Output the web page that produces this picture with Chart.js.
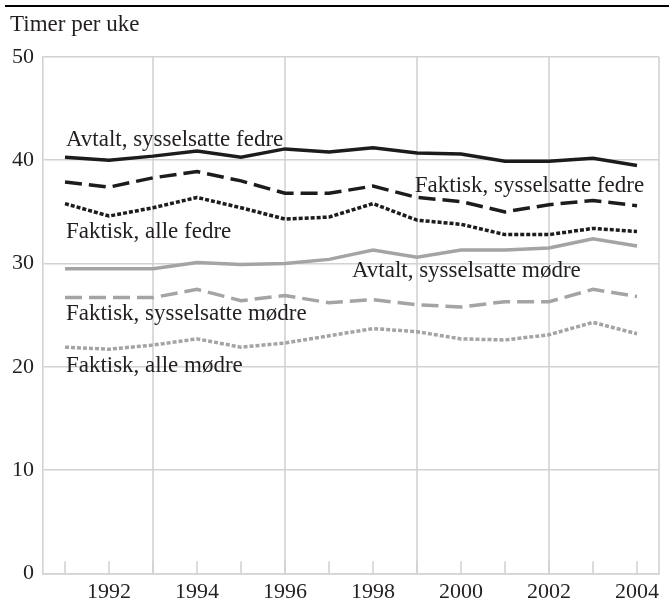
<!DOCTYPE html>
<html>
<head>
<meta charset="utf-8">
<script src="https://cdn.jsdelivr.net/npm/chart.js@4"></script>
<style>
  html, body { margin: 0; padding: 0; background: #fff; }
  #wrap { width: 669px; height: 602px; position: relative; }
</style>
</head>
<body>
<div id="wrap"><canvas id="c" width="669" height="602"></canvas></div>
<script>
// ---- data ----
const years = [1991, 1992, 1993, 1994, 1995, 1996, 1997, 1998, 1999, 2000, 2001, 2002, 2003, 2004];
const avtaltSysFedre   = [40.3, 40.0, 40.4, 40.9, 40.3, 41.1, 40.8, 41.2, 40.7, 40.6, 39.9, 39.9, 40.2, 39.5];
const faktiskSysFedre  = [37.9, 37.4, 38.3, 38.9, 38.0, 36.8, 36.8, 37.5, 36.4, 36.0, 35.0, 35.7, 36.1, 35.6];
const faktiskAlleFedre = [35.8, 34.6, 35.4, 36.4, 35.4, 34.3, 34.5, 35.8, 34.2, 33.8, 32.8, 32.8, 33.4, 33.1];
const avtaltSysModre   = [29.5, 29.5, 29.5, 30.1, 29.9, 30.0, 30.4, 31.3, 30.6, 31.3, 31.3, 31.5, 32.4, 31.7];
const faktiskSysModre  = [26.7, 26.7, 26.7, 27.5, 26.4, 26.9, 26.2, 26.5, 26.0, 25.8, 26.3, 26.3, 27.5, 26.8];
const faktiskAlleModre = [21.9, 21.7, 22.1, 22.7, 21.9, 22.3, 23.0, 23.7, 23.4, 22.7, 22.6, 23.1, 24.3, 23.2];
const seriesNames = [
  'Avtalt, sysselsatte fedre', 'Faktisk, sysselsatte fedre', 'Faktisk, alle fedre',
  'Avtalt, sysselsatte mødre', 'Faktisk, sysselsatte mødre', 'Faktisk, alle mødre'
];
const xLabelYears = [1992, 1994, 1996, 1998, 2000, 2002, 2004];
const xGridYears = [1993, 1996, 1999, 2002, 2004.5];
const yTicks = [0, 10, 20, 30, 40, 50];
const axisTitle = 'Timer per uke';
// label anchors in data units: [series index, x (year), y (value at baseline)]
const labelAnchors = [
  [0, 1991.02, 41.4],
  [1, 1998.95, 36.95],
  [2, 1991.02, 32.45],
  [3, 1997.52, 28.65],
  [4, 1991.02, 24.5],
  [5, 1991.02, 19.45]
];

// ---- styles ----
const FONT = "'Liberation Serif', 'Times New Roman', serif";
const TEXT = '#231f20';
const BLACK = '#1c1c1c';
const GRAY = '#a4a4a4';
const GRID = '#d2d2d2';
const styles = [
  { color: BLACK, dash: [] },
  { color: BLACK, dash: [17, 7] },
  { color: BLACK, dash: [4, 2] },
  { color: GRAY, dash: [] },
  { color: GRAY, dash: [17, 7] },
  { color: GRAY, dash: [4, 2] }
];
const seriesData = [avtaltSysFedre, faktiskSysFedre, faktiskAlleFedre, avtaltSysModre, faktiskSysModre, faktiskAlleModre];

const datasets = seriesData.map((vals, i) => ({
  label: seriesNames[i],
  data: years.map((y, j) => ({ x: y, y: vals[j] })),
  borderColor: styles[i].color,
  borderDash: styles[i].dash,
  borderWidth: 3.5,
  borderCapStyle: 'butt',
  borderJoinStyle: 'miter',
  pointRadius: 0,
  tension: 0,
  fill: false
}));

const decor = {
  id: 'decor',
  beforeDatasetsDraw(chart) {
    const { ctx, chartArea, scales } = chart;
    const xs = scales.x;
    ctx.save();
    ctx.strokeStyle = GRID;
    ctx.lineWidth = 1.6;
    xGridYears.forEach(v => {
      const px = xs.getPixelForValue(v);
      ctx.beginPath();
      ctx.moveTo(px, chartArea.top);
      ctx.lineTo(px, chartArea.bottom);
      ctx.stroke();
    });
    years.forEach(v => {
      const px = xs.getPixelForValue(v);
      ctx.beginPath();
      ctx.moveTo(px, chartArea.bottom);
      ctx.lineTo(px, chartArea.bottom - 12);
      ctx.stroke();
    });
    ctx.restore();
  },
  afterDraw(chart) {
    const { ctx, scales } = chart;
    const xs = scales.x, ys = scales.y;
    ctx.save();
    ctx.strokeStyle = '#000';
    ctx.lineWidth = 2;
    ctx.beginPath();
    ctx.moveTo(5, 6);
    ctx.lineTo(669, 6);
    ctx.stroke();
    ctx.fillStyle = TEXT;
    ctx.font = '23px ' + FONT;
    ctx.textAlign = 'left';
    ctx.textBaseline = 'alphabetic';
    ctx.fillText(axisTitle, 10, 31);
    labelAnchors.forEach(([i, x, y]) => {
      ctx.fillText(seriesNames[i], xs.getPixelForValue(x), ys.getPixelForValue(y));
    });
    ctx.restore();
  }
};

new Chart(document.getElementById('c'), {
  type: 'line',
  data: { datasets },
  options: {
    responsive: false,
    animation: false,
    layout: { padding: { left: 0, right: 10, top: 57, bottom: 0 } },
    plugins: { legend: { display: false }, tooltip: { enabled: false } },
    scales: {
      x: {
        type: 'linear',
        min: 1990.5,
        max: 2004.5,
        afterBuildTicks(scale) { scale.ticks = xLabelYears.map(v => ({ value: v })); },
        afterFit(scale) { scale.height = 28.7; },
        grid: { display: false, drawTicks: false },
        border: { display: true, color: GRID, width: 1.6 },
        ticks: {
          autoSkip: false,
          maxRotation: 0,
          padding: 6,
          color: TEXT,
          font: { family: FONT, size: 22 },
          callback: v => String(v)
        }
      },
      y: {
        min: 0,
        max: 50,
        afterBuildTicks(scale) { scale.ticks = yTicks.map(v => ({ value: v })); },
        afterFit(scale) { scale.width = 43; },
        grid: { color: GRID, lineWidth: 1.6, drawTicks: false },
        border: { display: true, color: GRID, width: 1.6 },
        ticks: {
          padding: 9,
          color: TEXT,
          font: { family: FONT, size: 22 }
        }
      }
    }
  },
  plugins: [decor]
});
</script>
</body>
</html>
